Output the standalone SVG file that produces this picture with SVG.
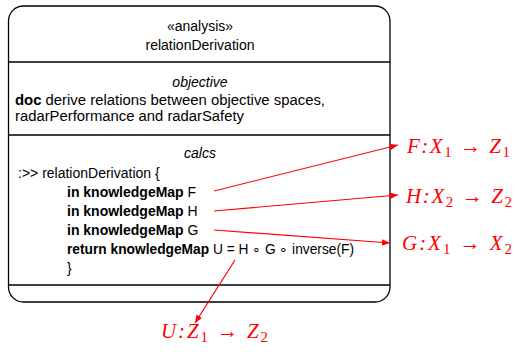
<svg xmlns="http://www.w3.org/2000/svg" width="515" height="356" viewBox="0 0 515 356">
<style>
.t{font-family:"Liberation Sans",Arial,sans-serif;font-size:14px;fill:#000}
.c{text-anchor:middle}
.i{font-style:italic}
.b{font-weight:bold}
.m{font-family:"Liberation Serif","DejaVu Serif",serif;font-style:italic;font-size:21px;fill:#ff0000}
.m .n{font-style:normal}
.m .s{font-size:15px}
.ln{stroke:#000;stroke-width:1.3;fill:none}
.ar{stroke:#ff0000;stroke-width:1.2;fill:none;marker-end:url(#ah)}
</style>
<defs>
<marker id="ah" viewBox="0 0 10 10" refX="10" refY="5" markerWidth="8" markerHeight="8" markerUnits="userSpaceOnUse" orient="auto">
<path d="M0,1 L10,5 L0,9 Z" fill="#ff0000"/>
</marker>
</defs>
<rect width="515" height="356" fill="#fff"/>
<g id="analysis">
<rect class="ln" x="8.5" y="6" width="381.5" height="296" rx="15" ry="15"/>
<line class="ln" x1="8.5" y1="62" x2="390" y2="62"/>
<line class="ln" x1="8.5" y1="135" x2="390" y2="135"/>
<line class="ln" x1="8.5" y1="285" x2="390" y2="285"/>
<text class="t c" x="200" y="31">«analysis»</text>
<text class="t c" x="200" y="50">relationDerivation</text>
<text class="t c i" x="200" y="87">objective</text>
<text class="t" x="15" y="105" textLength="310" lengthAdjust="spacingAndGlyphs"><tspan class="b">doc</tspan> derive relations between objective spaces,</text>
<text class="t" x="15" y="121" textLength="229" lengthAdjust="spacingAndGlyphs">radarPerformance and radarSafety</text>
<text class="t c i" x="200" y="158">calcs</text>
<text class="t" x="18" y="178">:&gt;&gt; relationDerivation {</text>
<text class="t" x="67" y="197"><tspan class="b">in knowledgeMap</tspan> F</text>
<text class="t" x="67" y="216"><tspan class="b">in knowledgeMap</tspan> H</text>
<text class="t" x="67" y="235"><tspan class="b">in knowledgeMap</tspan> G</text>
<text class="t" x="67" y="254" textLength="287" lengthAdjust="spacingAndGlyphs"><tspan class="b">return knowledgeMap</tspan> U = H ∘ G ∘ inverse(F)</text>
<text class="t" x="67" y="273">}</text>
</g>
<g id="labels">
<text class="m" x="407" y="153" textLength="103" lengthAdjust="spacing">F:X<tspan class="s n" dy="4">1</tspan><tspan class="n" dy="-4"> → </tspan>Z<tspan class="s n" dy="4">1</tspan></text>
<text class="m" x="406" y="203" textLength="106" lengthAdjust="spacing">H:X<tspan class="s n" dy="4">2</tspan><tspan class="n" dy="-4"> → </tspan>Z<tspan class="s n" dy="4">2</tspan></text>
<text class="m" x="402" y="250" textLength="110" lengthAdjust="spacing">G:X<tspan class="s n" dy="4">1</tspan><tspan class="n" dy="-4"> → </tspan>X<tspan class="s n" dy="4">2</tspan></text>
<text class="m" x="161" y="338" textLength="107" lengthAdjust="spacing">U:Z<tspan class="s n" dy="4">1</tspan><tspan class="n" dy="-4"> → </tspan>Z<tspan class="s n" dy="4">2</tspan></text>
</g>
<g id="connectors">
<line class="ar" x1="214" y1="191" x2="398" y2="145"/>
<line class="ar" x1="214" y1="211" x2="398" y2="195"/>
<line class="ar" x1="214" y1="230" x2="390" y2="243"/>
<line class="ar" x1="235" y1="260" x2="195" y2="323"/>
</g>
</svg>
